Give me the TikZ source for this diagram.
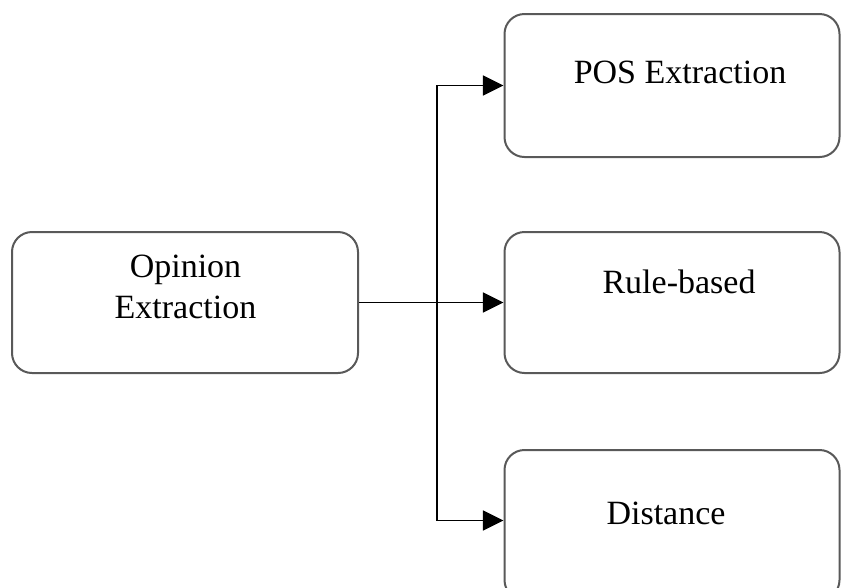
\documentclass[tikz,border=0pt]{standalone}
\usepackage{fontspec}
\setmainfont{Liberation Serif}
\usetikzlibrary{arrows.meta}
\begin{document}
\begin{tikzpicture}[x=0.75pt,y=-0.75pt,
  box/.style={draw=black!65, line width=1.5pt, rounded corners=15pt, inner sep=0pt, fill=white},
  lbl/.style={anchor=base, inner sep=0pt, font=\fontsize{25.5pt}{31pt}\selectfont},
  conn/.style={draw=black, line width=1.3pt, -{Triangle[length=15.5pt,width=15pt]}}]
\clip (0,0) rectangle (841,587);
\fill[white] (0,0) rectangle (841,587);
% boxes
\node[box, minimum width=346*0.75pt, minimum height=141*0.75pt] (op) at (185,302.5) {};
\node[box, minimum width=335*0.75pt, minimum height=143*0.75pt] (pos) at (672,85.5) {};
\node[box, minimum width=335*0.75pt, minimum height=141*0.75pt] (rule) at (672,302.5) {};
\node[box, minimum width=335*0.75pt, minimum height=150*0.75pt] (dist) at (672,525) {};
% labels
\node[lbl] (opt1) at (185.5,277) {Opinion};
\node[lbl] (opt2) at (185.5,318) {Extraction};
\node[lbl] (post) at (680,83) {POS Extraction};
\node[lbl] (rulet) at (679,293) {Rule-based};
\node[lbl] (distt) at (666,524) {Distance};
% connectors
\coordinate (j) at (437,302.5);
\coordinate (b) at (437,520.5);
\draw[conn] (op.east) -- (rule.west);
\draw[conn] (j) |- (pos.west);
\draw[conn] (j) -- (b) -- (b -| dist.west);
\end{tikzpicture}
\end{document}
